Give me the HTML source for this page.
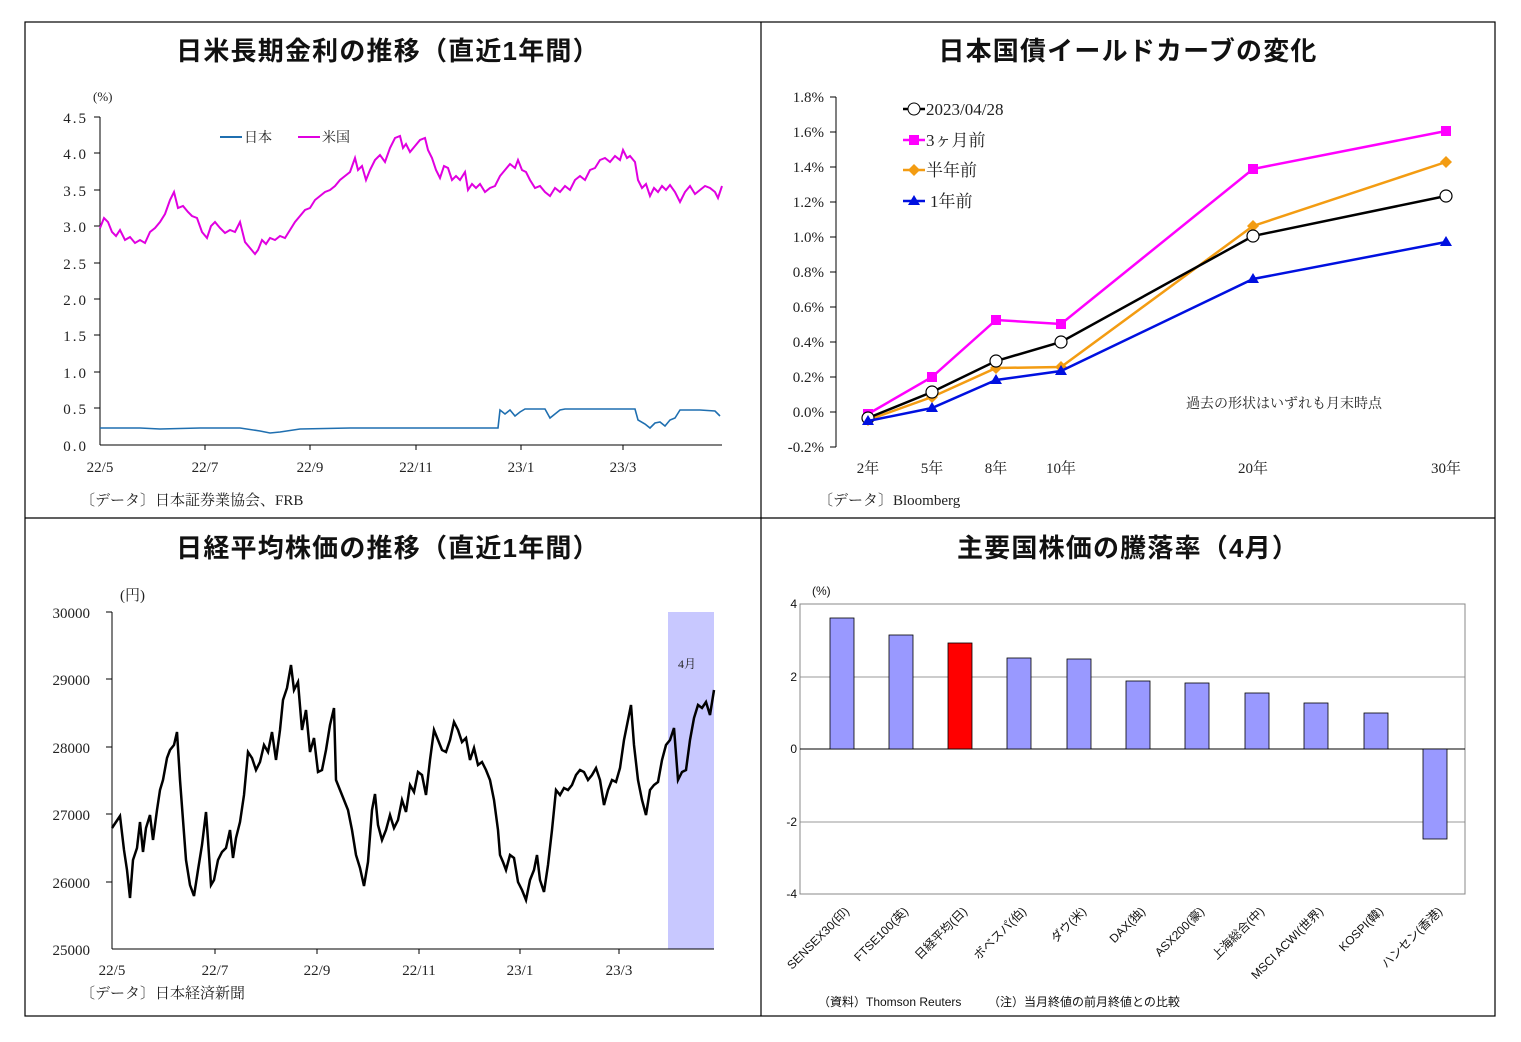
<!DOCTYPE html>
<html><head><meta charset="utf-8"><style>
html,body{margin:0;padding:0;background:#fff;}
svg{display:block;}
.t{font-family:"Liberation Sans","Noto Sans CJK JP",sans-serif;font-size:26px;font-weight:bold;fill:#111;letter-spacing:1.2px;}
.s{font-family:"Liberation Serif","Noto Serif CJK JP",serif;font-size:15px;fill:#222;}
.g{font-family:"Liberation Sans","Noto Sans CJK JP",sans-serif;font-size:12px;fill:#111;}
.w{letter-spacing:2px;}
</style></head><body>
<svg width="1521" height="1042" viewBox="0 0 1521 1042" xmlns="http://www.w3.org/2000/svg">
<rect width="1521" height="1042" fill="#fff"/>
<g stroke="#000" stroke-width="1.2" fill="none">
<rect x="25" y="22" width="1470" height="994"/>
<line x1="761" y1="22" x2="761" y2="1016"/>
<line x1="25" y1="518" x2="1495" y2="518"/>
</g>

<!-- Panel 1 -->
<text class="t" x="388" y="60" text-anchor="middle">日米長期金利の推移（直近1年間）</text>
<text class="s" x="93" y="101" style="font-size:13px">(%)</text>
<g stroke="#000" stroke-width="1">
<line x1="100" y1="117" x2="100" y2="445"/><line x1="100" y1="445" x2="722" y2="445"/>
</g>
<g class="s w" text-anchor="end">
<text x="88" y="123">4.5</text><text x="88" y="159">4.0</text><text x="88" y="196">3.5</text><text x="88" y="232">3.0</text><text x="88" y="269">2.5</text><text x="88" y="305">2.0</text><text x="88" y="341">1.5</text><text x="88" y="378">1.0</text><text x="88" y="414">0.5</text><text x="88" y="451">0.0</text>
</g>
<g stroke="#000"><line x1="94" y1="117" x2="100" y2="117"/><line x1="94" y1="153" x2="100" y2="153"/><line x1="94" y1="190" x2="100" y2="190"/><line x1="94" y1="226" x2="100" y2="226"/><line x1="94" y1="263" x2="100" y2="263"/><line x1="94" y1="299" x2="100" y2="299"/><line x1="94" y1="335" x2="100" y2="335"/><line x1="94" y1="372" x2="100" y2="372"/><line x1="94" y1="408" x2="100" y2="408"/>
<line x1="205" y1="445" x2="205" y2="450"/><line x1="310" y1="445" x2="310" y2="450"/><line x1="416" y1="445" x2="416" y2="450"/><line x1="521" y1="445" x2="521" y2="450"/><line x1="623" y1="445" x2="623" y2="450"/></g>
<g class="s" text-anchor="middle"><text x="100" y="472">22/5</text><text x="205" y="472">22/7</text><text x="310" y="472">22/9</text><text x="416" y="472">22/11</text><text x="521" y="472">23/1</text><text x="623" y="472">23/3</text></g>
<line x1="220" y1="137" x2="242" y2="137" stroke="#1f6fb0" stroke-width="2"/><text class="s" x="244" y="142" style="font-size:14px">日本</text>
<line x1="298" y1="137" x2="320" y2="137" stroke="#e000e0" stroke-width="2"/><text class="s" x="322" y="142" style="font-size:14px">米国</text>
<polyline fill="none" stroke="#e000e0" stroke-width="2" points="100,228 104,218 108,222 112,232 116,236 120,230 125,240 130,237 135,243 140,240 145,243 150,232 155,228 160,222 165,214 170,200 174,192 178,208 183,206 188,212 192,216 197,218 202,232 207,238 211,226 215,222 220,228 225,233 230,230 235,232 240,222 245,242 250,248 255,254 258,250 262,240 266,244 270,238 275,240 280,236 285,238 290,230 295,222 300,216 305,210 310,208 315,200 320,196 325,192 330,190 335,186 340,180 345,176 350,172 355,158 358,170 362,166 366,180 370,170 375,160 380,155 385,162 390,148 395,138 400,136 403,148 406,144 410,152 415,146 420,140 425,138 428,150 432,158 436,170 440,178 444,166 448,168 452,180 456,176 460,180 465,172 468,190 472,184 476,188 480,184 485,192 490,188 495,186 500,176 505,170 510,164 515,168 518,160 522,170 526,172 530,180 535,188 540,186 545,192 550,196 555,188 560,192 565,186 570,190 575,180 580,176 585,180 590,170 595,168 600,160 605,158 610,162 615,156 620,160 623,150 627,158 630,156 635,162 638,180 642,188 646,184 650,196 654,188 658,192 662,186 666,190 670,185 675,192 680,202 685,192 690,186 695,194 700,190 705,186 710,188 715,192 718,198 722,186"/>
<polyline fill="none" stroke="#1f6fb0" stroke-width="1.6" points="100,428 140,428 160,429 200,428 240,428 260,431 270,433 280,432 300,429 350,428 420,428 498,428 500,410 505,414 510,410 515,416 520,412 525,409 545,409 550,418 555,414 560,410 565,409 635,409 638,420 645,424 650,428 655,423 660,422 665,426 670,420 675,418 680,410 700,410 715,411 720,416"/>
<text class="s" x="80" y="505">〔データ〕日本証券業協会、FRB</text>

<!-- Panel 2 -->
<text class="t" x="1128" y="60" text-anchor="middle">日本国債イールドカーブの変化</text>
<g stroke="#000"><line x1="836" y1="97" x2="836" y2="447"/>
<line x1="830" y1="97" x2="836" y2="97"/><line x1="830" y1="132" x2="836" y2="132"/><line x1="830" y1="167" x2="836" y2="167"/><line x1="830" y1="202" x2="836" y2="202"/><line x1="830" y1="237" x2="836" y2="237"/><line x1="830" y1="272" x2="836" y2="272"/><line x1="830" y1="307" x2="836" y2="307"/><line x1="830" y1="342" x2="836" y2="342"/><line x1="830" y1="377" x2="836" y2="377"/><line x1="830" y1="412" x2="836" y2="412"/><line x1="830" y1="447" x2="836" y2="447"/></g>
<g class="s" text-anchor="end">
<text x="824" y="102">1.8%</text><text x="824" y="137">1.6%</text><text x="824" y="172">1.4%</text><text x="824" y="207">1.2%</text><text x="824" y="242">1.0%</text><text x="824" y="277">0.8%</text><text x="824" y="312">0.6%</text><text x="824" y="347">0.4%</text><text x="824" y="382">0.2%</text><text x="824" y="417">0.0%</text><text x="824" y="452">-0.2%</text></g>
<g class="s" text-anchor="middle"><text x="868" y="473">2年</text><text x="932" y="473">5年</text><text x="996" y="473">8年</text><text x="1061" y="473">10年</text><text x="1253" y="473">20年</text><text x="1446" y="473">30年</text></g>
<polyline fill="none" stroke="#ff00ff" stroke-width="2.5" points="868,414 932,377 996,320 1061,324 1253,169 1446,131"/>
<g fill="#ff00ff"><rect x="863" y="409" width="10" height="10"/><rect x="927" y="372" width="10" height="10"/><rect x="991" y="315" width="10" height="10"/><rect x="1056" y="319" width="10" height="10"/><rect x="1248" y="164" width="10" height="10"/><rect x="1441" y="126" width="10" height="10"/></g>
<polyline fill="none" stroke="#f39c12" stroke-width="2.5" points="868,420 932,397 996,368 1061,367 1253,226 1446,162"/>
<g fill="#f39c12"><polygon points="868,414 874,420 868,426 862,420"/><polygon points="932,391 938,397 932,403 926,397"/><polygon points="996,362 1002,368 996,374 990,368"/><polygon points="1061,361 1067,367 1061,373 1055,367"/><polygon points="1253,220 1259,226 1253,232 1247,226"/><polygon points="1446,156 1452,162 1446,168 1440,162"/></g>
<polyline fill="none" stroke="#000" stroke-width="2.5" points="868,418 932,392 996,361 1061,342 1253,236 1446,196"/>
<g fill="#fff" stroke="#000" stroke-width="1.2"><circle cx="868" cy="418" r="6"/><circle cx="932" cy="392" r="6"/><circle cx="996" cy="361" r="6"/><circle cx="1061" cy="342" r="6"/><circle cx="1253" cy="236" r="6"/><circle cx="1446" cy="196" r="6"/></g>
<polyline fill="none" stroke="#0010e0" stroke-width="2.5" points="868,421 932,408 996,380 1061,371 1253,279 1446,242"/>
<g fill="#0010e0"><polygon points="868,415 874,425 862,425"/><polygon points="932,402 938,412 926,412"/><polygon points="996,374 1002,384 990,384"/><polygon points="1061,365 1067,375 1055,375"/><polygon points="1253,273 1259,283 1247,283"/><polygon points="1446,236 1452,246 1440,246"/></g>
<line x1="903" y1="109" x2="925" y2="109" stroke="#000" stroke-width="2.5"/><circle cx="914" cy="109" r="6" fill="#fff" stroke="#000"/><text class="s" x="926" y="115" style="font-size:17px">2023/04/28</text>
<line x1="903" y1="140" x2="925" y2="140" stroke="#ff00ff" stroke-width="2.5"/><rect x="909" y="135" width="10" height="10" fill="#ff00ff"/><text class="s" x="926" y="146" style="font-size:17px">3ヶ月前</text>
<line x1="903" y1="170" x2="925" y2="170" stroke="#f39c12" stroke-width="2.5"/><polygon points="914,164 920,170 914,176 908,170" fill="#f39c12"/><text class="s" x="926" y="176" style="font-size:17px">半年前</text>
<line x1="903" y1="201" x2="925" y2="201" stroke="#0010e0" stroke-width="2.5"/><polygon points="914,195 920,205 908,205" fill="#0010e0"/><text class="s" x="930" y="207" style="font-size:17px">1年前</text>
<text class="s" x="1186" y="408" style="font-size:14px">過去の形状はいずれも月末時点</text>
<text class="s" x="818" y="505">〔データ〕Bloomberg</text>

<!-- Panel 3 -->
<text class="t" x="388" y="557" text-anchor="middle">日経平均株価の推移（直近1年間）</text>
<text class="s" x="120" y="600">(円)</text>
<rect x="668" y="612" width="46" height="337" fill="#c8c8ff"/>
<text class="s" x="678" y="668" style="font-size:12px">4月</text>
<g stroke="#000"><line x1="112" y1="612" x2="112" y2="949"/><line x1="112" y1="949" x2="714" y2="949"/>
<line x1="106" y1="612" x2="112" y2="612"/><line x1="106" y1="679" x2="112" y2="679"/><line x1="106" y1="747" x2="112" y2="747"/><line x1="106" y1="814" x2="112" y2="814"/><line x1="106" y1="882" x2="112" y2="882"/>
<line x1="215" y1="949" x2="215" y2="954"/><line x1="317" y1="949" x2="317" y2="954"/><line x1="419" y1="949" x2="419" y2="954"/><line x1="520" y1="949" x2="520" y2="954"/><line x1="619" y1="949" x2="619" y2="954"/></g>
<g class="s" text-anchor="end"><text x="90" y="618">30000</text><text x="90" y="685">29000</text><text x="90" y="753">28000</text><text x="90" y="820">27000</text><text x="90" y="888">26000</text><text x="90" y="955">25000</text></g>
<g class="s" text-anchor="middle"><text x="112" y="975">22/5</text><text x="215" y="975">22/7</text><text x="317" y="975">22/9</text><text x="419" y="975">22/11</text><text x="520" y="975">23/1</text><text x="619" y="975">23/3</text></g>
<polyline fill="none" stroke="#000" stroke-width="2.5" points="112,828 116,822 120,816 124,850 127,870 130,898 133,860 137,848 140,822 143,852 146,828 150,815 153,840 157,810 160,790 163,780 167,758 170,750 174,745 177,732 180,780 183,820 186,860 190,885 194,896 198,870 202,845 206,812 208,840 211,885 214,880 218,860 222,852 226,848 230,830 233,858 236,838 240,822 244,795 248,752 252,758 256,770 260,762 264,745 268,752 272,732 276,760 280,730 283,700 287,688 291,665 294,690 298,682 302,730 306,710 310,752 314,738 318,772 322,770 326,750 330,725 334,708 336,780 340,790 344,800 348,810 352,830 356,855 360,868 364,886 368,862 372,810 375,794 378,825 382,840 386,830 390,815 394,828 398,820 402,800 406,812 410,785 414,792 418,772 422,775 426,795 430,760 434,730 438,740 442,750 446,752 450,740 454,722 458,730 462,742 466,738 470,760 474,748 478,765 482,762 486,770 490,780 494,800 498,830 500,855 503,862 506,870 510,855 514,858 518,882 522,890 526,900 530,880 534,870 537,855 540,880 544,892 548,865 552,830 556,790 560,795 564,788 568,790 572,785 576,775 580,770 584,772 588,780 592,775 596,768 600,780 604,805 608,790 612,780 616,782 620,768 624,740 628,720 631,705 634,745 638,780 642,800 646,815 650,790 654,785 658,782 662,760 666,745 670,740 674,728 678,780 682,772 686,770 690,740 694,718 698,705 702,708 706,702 710,715 714,690"/>
<text class="s" x="80" y="998">〔データ〕日本経済新聞</text>

<!-- Panel 4 -->
<text class="t" x="1128" y="557" text-anchor="middle">主要国株価の騰落率（4月）</text>
<text class="g" x="812" y="595">(%)</text>
<g stroke="#999" stroke-width="1"><line x1="800" y1="677" x2="1465" y2="677"/><line x1="800" y1="822" x2="1465" y2="822"/></g>
<rect x="800" y="604" width="665" height="290" fill="none" stroke="#888"/>
<line x1="800" y1="749" x2="1465" y2="749" stroke="#000"/>
<g class="g" text-anchor="end"><text x="797" y="608">4</text><text x="797" y="681">2</text><text x="797" y="753">0</text><text x="797" y="826">-2</text><text x="797" y="898">-4</text></g>
<g fill="#9999ff" stroke="#000" stroke-width="0.8">
<rect x="830" y="618" width="24" height="131"/>
<rect x="889" y="635" width="24" height="114"/>
<rect x="948" y="643" width="24" height="106" fill="#ff0000"/>
<rect x="1007" y="658" width="24" height="91"/>
<rect x="1067" y="659" width="24" height="90"/>
<rect x="1126" y="681" width="24" height="68"/>
<rect x="1185" y="683" width="24" height="66"/>
<rect x="1245" y="693" width="24" height="56"/>
<rect x="1304" y="703" width="24" height="46"/>
<rect x="1364" y="713" width="24" height="36"/>
<rect x="1423" y="749" width="24" height="90"/>
</g>
<g class="g" text-anchor="end">
<text transform="translate(850,912) rotate(-45)">SENSEX30(印)</text>
<text transform="translate(909,912) rotate(-45)">FTSE100(英)</text>
<text transform="translate(968,912) rotate(-45)">日経平均(日)</text>
<text transform="translate(1027,912) rotate(-45)">ボベスパ(伯)</text>
<text transform="translate(1087,912) rotate(-45)">ダウ(米)</text>
<text transform="translate(1146,912) rotate(-45)">DAX(独)</text>
<text transform="translate(1205,912) rotate(-45)">ASX200(豪)</text>
<text transform="translate(1265,912) rotate(-45)">上海総合(中)</text>
<text transform="translate(1324,912) rotate(-45)">MSCI ACWI(世界)</text>
<text transform="translate(1384,912) rotate(-45)">KOSPI(韓)</text>
<text transform="translate(1443,912) rotate(-45)">ハンセン(香港)</text>
</g>
<text class="g" x="818" y="1006">（資料）Thomson Reuters</text>
<text class="g" x="988" y="1006">（注）当月終値の前月終値との比較</text>
</svg>
</body></html>
